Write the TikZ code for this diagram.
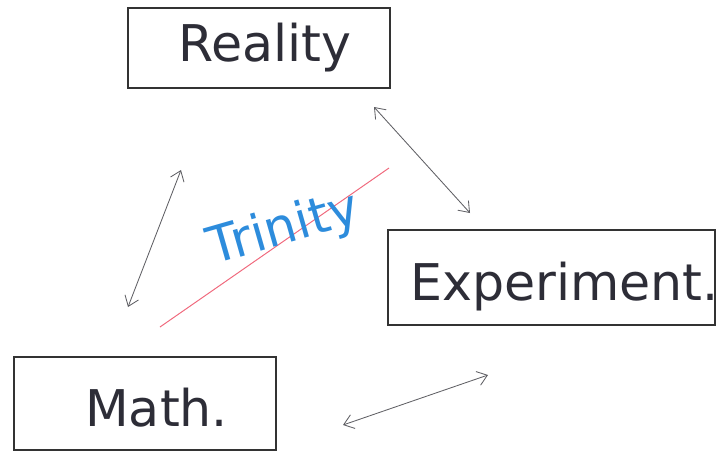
\documentclass[tikz,border=0pt]{standalone}
\usepackage{fontspec}
\setmainfont{DejaVu Sans}
\usetikzlibrary{arrows.meta}
\definecolor{azultrindade}{RGB}{45,140,220}
\definecolor{rosalinha}{RGB}{240,105,125}
\definecolor{cinzaseta}{RGB}{95,95,100}
\definecolor{cinzatexto}{RGB}{45,45,55}
\begin{document}
\begin{tikzpicture}[x=0.025cm, y=-0.025cm,
    caixa/.style={draw=black!80, line width=0.8pt, rectangle, inner sep=0pt},
    rotulo/.style={inner sep=0pt, anchor=base west, text=cinzatexto, font=\fontsize{36}{40}\selectfont},
    seta/.style={{Straight Barb[length=2.4mm, width=3.6mm]}-{Straight Barb[length=2.4mm, width=3.6mm]}, draw=cinzaseta, line width=0.6pt}]
\useasboundingbox (0,0) rectangle (721,453);
% Caixas
\node[caixa, minimum width=6.55cm, minimum height=2cm] (realidade) at (259,48) {};
\node[rotulo] (trealidade) at (178,62) {Reality};
\node[caixa, minimum width=8.175cm, minimum height=2.375cm] (experimento) at (551.5,277.5) {};
\node[rotulo] (texperimento) at (410,300) {Experiment.};
\node[caixa, minimum width=6.55cm, minimum height=2.325cm] (matematica) at (145,403.5) {};
\node[rotulo] (tmatematica) at (85,426) {Math.};
% Extremos das setas
\coordinate (m1) at (128,307);
\coordinate (r1) at (181,170);
\coordinate (r2) at (374,107);
\coordinate (e1) at (470,213);
\coordinate (m2) at (343,425);
\coordinate (e2) at (488,375);
\draw[seta] (m1) -- (r1);
\draw[seta] (r2) -- (e1);
\draw[seta] (m2) -- (e2);
% Linha e texto central
\coordinate (l1) at (160,327);
\coordinate (l2) at (389,168);
\draw[rosalinha, line width=0.7pt] (l1) -- (l2);
\node[text=azultrindade, inner sep=0pt, rotate=16, font=\fontsize{36}{40}\selectfont] (trindade) at (284,230) {Trinity};
\end{tikzpicture}
\end{document}
